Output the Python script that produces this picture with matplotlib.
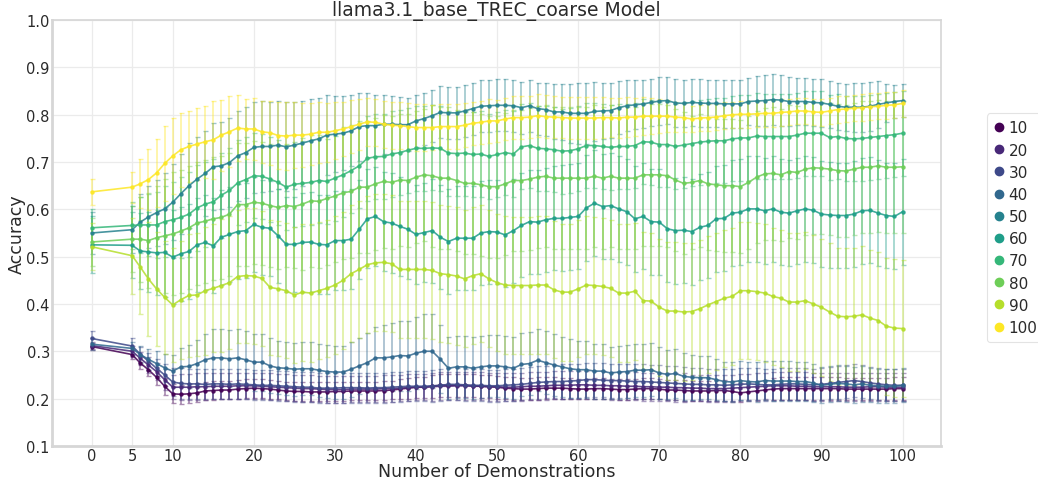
import matplotlib
matplotlib.use("Agg")
import matplotlib.pyplot as plt
from matplotlib.lines import Line2D

plt.rcParams['font.family'] = ['DejaVu Sans']

x_vals = [0] + list(range(5, 101))
labels = ["10", "20", "30", "40", "50", "60", "70", "80", "90", "100"]
colors = ["#440154", "#482878", "#3e4989", "#31688e", "#26828e",
          "#1f9e89", "#35b779", "#6ece58", "#b5de2b", "#fde725"]

acc_10 = [0.310, 0.293, 0.275, 0.261, 0.245, 0.226, 0.210,
          0.209, 0.210, 0.212, 0.216, 0.217, 0.218, 0.218, 0.220, 0.221, 0.222, 0.221, 0.220, 0.218, 0.216, 0.215,
          0.215, 0.214, 0.214, 0.214, 0.215, 0.215, 0.216, 0.216, 0.216, 0.216, 0.217, 0.218, 0.220, 0.222, 0.224, 0.224,
          0.226, 0.228, 0.228, 0.228, 0.228, 0.227, 0.226, 0.225, 0.224, 0.222, 0.221, 0.220, 0.220, 0.221, 0.222, 0.222,
          0.222, 0.221, 0.220, 0.220, 0.221, 0.221, 0.220, 0.219, 0.219, 0.220, 0.221, 0.221, 0.220, 0.218, 0.218, 0.217,
          0.216, 0.216, 0.216, 0.217, 0.217, 0.215, 0.212, 0.214, 0.216, 0.218, 0.220, 0.221, 0.221, 0.221, 0.221, 0.221,
          0.221, 0.221, 0.221, 0.220, 0.220, 0.220, 0.220, 0.220, 0.220, 0.221, 0.221]
acc_20 = [0.312, 0.300, 0.285, 0.271, 0.257, 0.240, 0.224,
          0.224, 0.224, 0.225, 0.225, 0.226, 0.226, 0.226, 0.227, 0.227, 0.227, 0.226, 0.225, 0.224, 0.223, 0.222,
          0.221, 0.221, 0.220, 0.219, 0.219, 0.219, 0.220, 0.220, 0.220, 0.220, 0.221, 0.221, 0.222, 0.223, 0.224, 0.224,
          0.225, 0.226, 0.226, 0.227, 0.227, 0.226, 0.226, 0.225, 0.225, 0.224, 0.224, 0.225, 0.226, 0.226, 0.227, 0.228,
          0.228, 0.228, 0.229, 0.229, 0.228, 0.228, 0.227, 0.227, 0.226, 0.226, 0.225, 0.225, 0.224, 0.224, 0.223, 0.223,
          0.222, 0.222, 0.221, 0.221, 0.221, 0.222, 0.223, 0.224, 0.225, 0.226, 0.227, 0.227, 0.227, 0.226, 0.226, 0.225,
          0.225, 0.225, 0.225, 0.224, 0.224, 0.224, 0.225, 0.225, 0.224, 0.224, 0.224]
acc_30 = [0.327, 0.311, 0.294, 0.279, 0.264, 0.250, 0.235,
          0.232, 0.231, 0.231, 0.230, 0.231, 0.231, 0.230, 0.231, 0.230, 0.229, 0.228, 0.228, 0.227, 0.226, 0.225,
          0.224, 0.224, 0.222, 0.222, 0.222, 0.223, 0.223, 0.223, 0.222, 0.223, 0.223, 0.224, 0.225, 0.226, 0.226, 0.226,
          0.227, 0.228, 0.230, 0.230, 0.229, 0.228, 0.228, 0.227, 0.227, 0.228, 0.229, 0.230, 0.232, 0.234, 0.235, 0.236,
          0.236, 0.237, 0.238, 0.240, 0.240, 0.239, 0.238, 0.238, 0.237, 0.236, 0.236, 0.235, 0.234, 0.233, 0.232, 0.231,
          0.230, 0.230, 0.229, 0.229, 0.228, 0.229, 0.230, 0.231, 0.230, 0.229, 0.229, 0.230, 0.231, 0.231, 0.230, 0.229,
          0.230, 0.232, 0.234, 0.236, 0.238, 0.236, 0.233, 0.231, 0.229, 0.228, 0.228]
acc_40 = [0.315, 0.306, 0.293, 0.283, 0.274, 0.265, 0.258,
          0.267, 0.268, 0.274, 0.282, 0.286, 0.286, 0.284, 0.286, 0.282, 0.277, 0.277, 0.269, 0.265, 0.264, 0.262,
          0.263, 0.263, 0.260, 0.257, 0.256, 0.256, 0.262, 0.269, 0.276, 0.286, 0.286, 0.288, 0.291, 0.290, 0.296, 0.300,
          0.300, 0.283, 0.264, 0.267, 0.267, 0.264, 0.267, 0.269, 0.269, 0.267, 0.264, 0.272, 0.274, 0.281, 0.276, 0.271,
          0.267, 0.263, 0.261, 0.261, 0.258, 0.258, 0.254, 0.256, 0.257, 0.260, 0.260, 0.261, 0.254, 0.251, 0.253, 0.247,
          0.245, 0.244, 0.244, 0.240, 0.236, 0.235, 0.238, 0.236, 0.235, 0.238, 0.237, 0.237, 0.237, 0.236, 0.236, 0.233,
          0.228, 0.230, 0.232, 0.231, 0.229, 0.231, 0.228, 0.227, 0.226, 0.226, 0.228]
acc_50 = [0.550, 0.557, 0.573, 0.584, 0.593, 0.601, 0.615,
          0.633, 0.650, 0.664, 0.676, 0.690, 0.692, 0.699, 0.713, 0.720, 0.731, 0.733, 0.733, 0.736, 0.732, 0.736,
          0.740, 0.745, 0.749, 0.757, 0.759, 0.761, 0.766, 0.775, 0.777, 0.777, 0.780, 0.780, 0.779, 0.779, 0.787, 0.792,
          0.798, 0.805, 0.804, 0.804, 0.808, 0.813, 0.818, 0.819, 0.820, 0.820, 0.819, 0.815, 0.819, 0.813, 0.811, 0.806,
          0.806, 0.803, 0.803, 0.803, 0.807, 0.808, 0.809, 0.815, 0.819, 0.821, 0.823, 0.826, 0.829, 0.830, 0.825, 0.824,
          0.826, 0.825, 0.824, 0.824, 0.823, 0.823, 0.823, 0.828, 0.829, 0.830, 0.832, 0.831, 0.828, 0.828, 0.828, 0.826,
          0.825, 0.822, 0.818, 0.816, 0.816, 0.816, 0.818, 0.822, 0.825, 0.828, 0.830]
acc_60 = [0.525, 0.524, 0.512, 0.510, 0.508, 0.509, 0.499,
          0.506, 0.511, 0.525, 0.530, 0.523, 0.541, 0.547, 0.553, 0.555, 0.568, 0.562, 0.560, 0.544, 0.526, 0.526,
          0.530, 0.531, 0.526, 0.525, 0.534, 0.534, 0.537, 0.558, 0.580, 0.585, 0.574, 0.571, 0.564, 0.558, 0.547, 0.551,
          0.555, 0.541, 0.532, 0.539, 0.539, 0.539, 0.550, 0.553, 0.552, 0.546, 0.555, 0.566, 0.574, 0.573, 0.578, 0.581,
          0.581, 0.583, 0.585, 0.603, 0.613, 0.606, 0.608, 0.601, 0.595, 0.580, 0.585, 0.574, 0.573, 0.559, 0.555, 0.556,
          0.553, 0.562, 0.566, 0.580, 0.581, 0.592, 0.594, 0.601, 0.601, 0.597, 0.601, 0.594, 0.592, 0.597, 0.601, 0.598,
          0.590, 0.588, 0.587, 0.587, 0.590, 0.597, 0.598, 0.592, 0.587, 0.585, 0.595]
acc_70 = [0.561, 0.566, 0.567, 0.567, 0.567, 0.574, 0.578,
          0.583, 0.590, 0.603, 0.611, 0.616, 0.630, 0.640, 0.656, 0.663, 0.671, 0.670, 0.664, 0.657, 0.647, 0.653,
          0.655, 0.657, 0.661, 0.659, 0.666, 0.673, 0.682, 0.692, 0.708, 0.711, 0.712, 0.717, 0.720, 0.725, 0.729, 0.729,
          0.730, 0.729, 0.719, 0.718, 0.719, 0.716, 0.717, 0.712, 0.716, 0.720, 0.717, 0.732, 0.735, 0.729, 0.728, 0.726,
          0.723, 0.724, 0.728, 0.735, 0.735, 0.733, 0.731, 0.733, 0.733, 0.735, 0.743, 0.742, 0.737, 0.737, 0.733, 0.736,
          0.739, 0.742, 0.744, 0.745, 0.745, 0.749, 0.751, 0.751, 0.755, 0.754, 0.754, 0.754, 0.754, 0.757, 0.761, 0.761,
          0.761, 0.752, 0.754, 0.750, 0.749, 0.750, 0.752, 0.754, 0.756, 0.758, 0.761]
acc_80 = [0.531, 0.537, 0.537, 0.534, 0.540, 0.544, 0.548,
          0.554, 0.561, 0.571, 0.575, 0.580, 0.583, 0.590, 0.610, 0.610, 0.615, 0.613, 0.608, 0.604, 0.608, 0.606,
          0.611, 0.618, 0.617, 0.623, 0.628, 0.635, 0.638, 0.647, 0.647, 0.654, 0.659, 0.657, 0.662, 0.661, 0.668, 0.673,
          0.671, 0.666, 0.666, 0.661, 0.655, 0.655, 0.652, 0.648, 0.648, 0.654, 0.661, 0.661, 0.664, 0.668, 0.670, 0.666,
          0.666, 0.666, 0.666, 0.666, 0.670, 0.666, 0.670, 0.666, 0.666, 0.666, 0.673, 0.673, 0.673, 0.671, 0.662, 0.655,
          0.657, 0.661, 0.654, 0.652, 0.650, 0.650, 0.648, 0.657, 0.668, 0.675, 0.676, 0.673, 0.680, 0.678, 0.685, 0.688,
          0.687, 0.685, 0.682, 0.681, 0.685, 0.689, 0.689, 0.692, 0.689, 0.689, 0.690]
acc_90 = [0.521, 0.502, 0.478, 0.453, 0.432, 0.414, 0.398,
          0.409, 0.418, 0.419, 0.428, 0.433, 0.439, 0.445, 0.458, 0.460, 0.459, 0.454, 0.435, 0.432, 0.428, 0.419,
          0.425, 0.423, 0.428, 0.433, 0.440, 0.450, 0.464, 0.473, 0.483, 0.487, 0.488, 0.485, 0.473, 0.473, 0.473, 0.473,
          0.471, 0.464, 0.462, 0.459, 0.453, 0.460, 0.464, 0.453, 0.445, 0.440, 0.439, 0.439, 0.439, 0.440, 0.440, 0.430,
          0.425, 0.425, 0.432, 0.440, 0.439, 0.437, 0.433, 0.423, 0.423, 0.427, 0.407, 0.406, 0.393, 0.385, 0.385, 0.383,
          0.384, 0.390, 0.398, 0.405, 0.412, 0.416, 0.428, 0.428, 0.426, 0.423, 0.416, 0.412, 0.404, 0.404, 0.407, 0.400,
          0.393, 0.383, 0.374, 0.373, 0.374, 0.377, 0.370, 0.365, 0.353, 0.349, 0.348]
acc_100 = [0.637, 0.647, 0.654, 0.663, 0.677, 0.697, 0.713,
           0.726, 0.733, 0.738, 0.743, 0.747, 0.757, 0.764, 0.772, 0.770, 0.770, 0.764, 0.762, 0.756, 0.755, 0.757,
           0.757, 0.759, 0.763, 0.763, 0.766, 0.770, 0.775, 0.780, 0.785, 0.784, 0.780, 0.778, 0.777, 0.775, 0.773, 0.773,
           0.773, 0.775, 0.775, 0.775, 0.778, 0.782, 0.784, 0.787, 0.787, 0.791, 0.794, 0.794, 0.795, 0.798, 0.796, 0.795,
           0.794, 0.793, 0.793, 0.793, 0.793, 0.794, 0.794, 0.793, 0.795, 0.795, 0.797, 0.797, 0.797, 0.797, 0.795, 0.794,
           0.791, 0.793, 0.794, 0.795, 0.798, 0.800, 0.801, 0.801, 0.802, 0.803, 0.803, 0.805, 0.806, 0.808, 0.808, 0.806,
           0.805, 0.808, 0.811, 0.812, 0.814, 0.815, 0.817, 0.818, 0.820, 0.821, 0.824]

err_10 = [0.008, 0.010, 0.012, 0.014, 0.016, 0.018, 0.020,
          0.020, 0.020, 0.020, 0.020, 0.020, 0.020, 0.020, 0.020, 0.020, 0.020, 0.020, 0.020, 0.020, 0.020, 0.020,
          0.020, 0.020, 0.020, 0.020, 0.020, 0.020, 0.020, 0.020, 0.020, 0.020, 0.020, 0.020, 0.022, 0.022, 0.022, 0.022,
          0.024, 0.024, 0.024, 0.024, 0.024, 0.024, 0.024, 0.024, 0.024, 0.024, 0.024, 0.024, 0.024, 0.024, 0.024, 0.024,
          0.022, 0.022, 0.022, 0.022, 0.022, 0.022, 0.022, 0.022, 0.022, 0.022, 0.022, 0.022, 0.022, 0.022, 0.022, 0.022,
          0.022, 0.022, 0.022, 0.022, 0.022, 0.022, 0.020, 0.020, 0.022, 0.022, 0.024, 0.024, 0.024, 0.024, 0.024, 0.024,
          0.024, 0.024, 0.024, 0.024, 0.024, 0.024, 0.024, 0.024, 0.024, 0.024, 0.024]
err_20 = [0.008, 0.012, 0.014, 0.016, 0.018, 0.022, 0.026,
          0.028, 0.028, 0.028, 0.028, 0.028, 0.028, 0.028, 0.028, 0.028, 0.028, 0.028, 0.028, 0.028, 0.028, 0.028,
          0.028, 0.028, 0.028, 0.028, 0.028, 0.028, 0.028, 0.028, 0.028, 0.028, 0.028, 0.028, 0.028, 0.028, 0.028, 0.028,
          0.030, 0.030, 0.030, 0.030, 0.030, 0.030, 0.030, 0.030, 0.030, 0.030, 0.030, 0.030, 0.030, 0.030, 0.030, 0.030,
          0.030, 0.030, 0.030, 0.030, 0.030, 0.030, 0.030, 0.030, 0.030, 0.030, 0.030, 0.030, 0.030, 0.030, 0.030, 0.030,
          0.028, 0.028, 0.028, 0.028, 0.028, 0.028, 0.028, 0.028, 0.028, 0.028, 0.030, 0.030, 0.030, 0.030, 0.030, 0.030,
          0.030, 0.030, 0.030, 0.030, 0.030, 0.030, 0.030, 0.030, 0.030, 0.030, 0.030]
err_30 = [0.016, 0.016, 0.016, 0.018, 0.020, 0.024, 0.030,
          0.032, 0.032, 0.032, 0.032, 0.032, 0.032, 0.032, 0.032, 0.032, 0.032, 0.032, 0.032, 0.032, 0.032, 0.032,
          0.032, 0.032, 0.032, 0.032, 0.032, 0.032, 0.032, 0.032, 0.032, 0.032, 0.032, 0.032, 0.032, 0.032, 0.032, 0.032,
          0.034, 0.034, 0.034, 0.034, 0.034, 0.034, 0.034, 0.034, 0.034, 0.034, 0.034, 0.034, 0.034, 0.034, 0.034, 0.034,
          0.036, 0.036, 0.036, 0.036, 0.036, 0.036, 0.036, 0.036, 0.036, 0.036, 0.036, 0.036, 0.036, 0.036, 0.036, 0.036,
          0.034, 0.034, 0.034, 0.034, 0.034, 0.034, 0.034, 0.034, 0.034, 0.034, 0.034, 0.034, 0.034, 0.034, 0.034, 0.034,
          0.034, 0.034, 0.034, 0.034, 0.034, 0.034, 0.034, 0.034, 0.034, 0.034, 0.034]
err_40 = [0.012, 0.014, 0.018, 0.022, 0.026, 0.030, 0.034,
          0.040, 0.045, 0.050, 0.055, 0.060, 0.060, 0.060, 0.060, 0.060, 0.060, 0.060, 0.058, 0.056, 0.056, 0.056,
          0.056, 0.056, 0.056, 0.056, 0.056, 0.056, 0.058, 0.060, 0.062, 0.066, 0.070, 0.072, 0.074, 0.074, 0.076, 0.078,
          0.078, 0.072, 0.066, 0.066, 0.066, 0.066, 0.066, 0.066, 0.066, 0.066, 0.066, 0.066, 0.066, 0.066, 0.066, 0.066,
          0.064, 0.062, 0.060, 0.060, 0.058, 0.058, 0.056, 0.056, 0.056, 0.056, 0.056, 0.056, 0.054, 0.052, 0.052, 0.050,
          0.048, 0.046, 0.046, 0.044, 0.042, 0.042, 0.042, 0.042, 0.042, 0.042, 0.042, 0.042, 0.042, 0.042, 0.042, 0.040,
          0.038, 0.038, 0.038, 0.038, 0.038, 0.038, 0.036, 0.036, 0.036, 0.036, 0.036]
err_50 = [0.045, 0.050, 0.060, 0.065, 0.070, 0.075, 0.080,
          0.085, 0.090, 0.090, 0.090, 0.092, 0.092, 0.094, 0.096, 0.096, 0.096, 0.096, 0.094, 0.094, 0.094, 0.092,
          0.090, 0.088, 0.086, 0.084, 0.080, 0.078, 0.075, 0.072, 0.068, 0.065, 0.062, 0.060, 0.058, 0.056, 0.055, 0.055,
          0.055, 0.055, 0.055, 0.055, 0.055, 0.055, 0.055, 0.055, 0.055, 0.055, 0.055, 0.055, 0.055, 0.055, 0.056, 0.058,
          0.060, 0.062, 0.064, 0.064, 0.062, 0.060, 0.058, 0.056, 0.054, 0.052, 0.050, 0.050, 0.050, 0.050, 0.050, 0.050,
          0.050, 0.050, 0.050, 0.050, 0.050, 0.050, 0.050, 0.050, 0.052, 0.054, 0.054, 0.054, 0.052, 0.050, 0.050, 0.050,
          0.050, 0.050, 0.050, 0.050, 0.052, 0.052, 0.052, 0.050, 0.040, 0.035, 0.035]
err_60 = [0.060, 0.070, 0.080, 0.085, 0.090, 0.095, 0.100,
          0.100, 0.100, 0.100, 0.100, 0.100, 0.100, 0.100, 0.100, 0.100, 0.100, 0.100, 0.100, 0.100, 0.100, 0.100,
          0.105, 0.105, 0.105, 0.105, 0.105, 0.105, 0.105, 0.105, 0.105, 0.105, 0.105, 0.105, 0.105, 0.105, 0.105, 0.105,
          0.110, 0.110, 0.110, 0.110, 0.110, 0.110, 0.110, 0.110, 0.110, 0.110, 0.110, 0.110, 0.110, 0.110, 0.110, 0.110,
          0.112, 0.112, 0.112, 0.112, 0.112, 0.112, 0.112, 0.112, 0.112, 0.112, 0.112, 0.112, 0.112, 0.112, 0.112, 0.112,
          0.112, 0.112, 0.112, 0.112, 0.112, 0.112, 0.112, 0.112, 0.112, 0.112, 0.112, 0.112, 0.112, 0.112, 0.112, 0.112,
          0.112, 0.112, 0.112, 0.112, 0.112, 0.112, 0.112, 0.112, 0.112, 0.112, 0.112]
err_70 = [0.040, 0.050, 0.060, 0.065, 0.070, 0.075, 0.080,
          0.085, 0.090, 0.090, 0.090, 0.090, 0.090, 0.090, 0.090, 0.090, 0.090, 0.090, 0.090, 0.090, 0.090, 0.090,
          0.090, 0.090, 0.090, 0.090, 0.090, 0.090, 0.090, 0.090, 0.090, 0.090, 0.090, 0.090, 0.090, 0.090, 0.090, 0.090,
          0.090, 0.090, 0.090, 0.090, 0.090, 0.090, 0.090, 0.090, 0.090, 0.090, 0.090, 0.090, 0.090, 0.090, 0.090, 0.090,
          0.090, 0.090, 0.090, 0.090, 0.090, 0.090, 0.090, 0.090, 0.090, 0.090, 0.090, 0.090, 0.090, 0.090, 0.090, 0.090,
          0.090, 0.090, 0.090, 0.090, 0.090, 0.090, 0.090, 0.090, 0.090, 0.090, 0.090, 0.090, 0.090, 0.090, 0.090, 0.090,
          0.090, 0.090, 0.090, 0.090, 0.090, 0.090, 0.090, 0.090, 0.090, 0.090, 0.090]
err_80 = [0.050, 0.070, 0.090, 0.100, 0.110, 0.120, 0.130,
          0.130, 0.130, 0.130, 0.130, 0.130, 0.130, 0.130, 0.130, 0.130, 0.130, 0.130, 0.130, 0.130, 0.130, 0.130,
          0.140, 0.140, 0.140, 0.140, 0.140, 0.140, 0.140, 0.140, 0.140, 0.140, 0.140, 0.140, 0.140, 0.140, 0.140, 0.140,
          0.150, 0.150, 0.150, 0.150, 0.150, 0.150, 0.150, 0.150, 0.150, 0.150, 0.150, 0.150, 0.150, 0.150, 0.150, 0.150,
          0.150, 0.150, 0.150, 0.150, 0.150, 0.150, 0.150, 0.150, 0.150, 0.150, 0.150, 0.150, 0.150, 0.150, 0.150, 0.150,
          0.140, 0.140, 0.140, 0.140, 0.140, 0.140, 0.140, 0.140, 0.140, 0.140, 0.140, 0.140, 0.140, 0.140, 0.140, 0.140,
          0.140, 0.140, 0.140, 0.140, 0.140, 0.140, 0.140, 0.140, 0.140, 0.140, 0.140]
err_90 = [0.050, 0.080, 0.100, 0.120, 0.120, 0.120, 0.120,
          0.125, 0.130, 0.130, 0.135, 0.135, 0.140, 0.140, 0.140, 0.143, 0.143, 0.143, 0.143, 0.143, 0.143, 0.143,
          0.145, 0.145, 0.145, 0.145, 0.145, 0.145, 0.145, 0.145, 0.145, 0.145, 0.145, 0.145, 0.145, 0.145, 0.145, 0.145,
          0.145, 0.145, 0.145, 0.145, 0.145, 0.145, 0.145, 0.145, 0.145, 0.145, 0.145, 0.145, 0.145, 0.145, 0.145, 0.145,
          0.145, 0.145, 0.145, 0.145, 0.145, 0.145, 0.145, 0.145, 0.145, 0.145, 0.145, 0.145, 0.145, 0.145, 0.145, 0.145,
          0.145, 0.145, 0.145, 0.145, 0.145, 0.145, 0.145, 0.145, 0.145, 0.145, 0.145, 0.145, 0.145, 0.145, 0.145, 0.145,
          0.145, 0.145, 0.145, 0.145, 0.145, 0.145, 0.145, 0.145, 0.145, 0.145, 0.145]
err_100 = [0.027, 0.033, 0.052, 0.064, 0.072, 0.080, 0.081,
           0.078, 0.075, 0.076, 0.076, 0.083, 0.075, 0.075, 0.070, 0.063, 0.065, 0.066, 0.068, 0.070, 0.072, 0.070,
           0.068, 0.066, 0.064, 0.062, 0.060, 0.058, 0.056, 0.054, 0.050, 0.050, 0.050, 0.050, 0.050, 0.050, 0.050, 0.050,
           0.048, 0.048, 0.048, 0.048, 0.046, 0.046, 0.046, 0.046, 0.045, 0.045, 0.045, 0.045, 0.045, 0.045, 0.045, 0.045,
           0.044, 0.044, 0.044, 0.044, 0.044, 0.044, 0.042, 0.042, 0.042, 0.040, 0.040, 0.038, 0.036, 0.034, 0.032, 0.030,
           0.028, 0.028, 0.028, 0.028, 0.028, 0.028, 0.028, 0.028, 0.028, 0.028, 0.028, 0.028, 0.028, 0.028, 0.028, 0.028,
           0.028, 0.028, 0.028, 0.028, 0.028, 0.028, 0.028, 0.028, 0.028, 0.028, 0.028]

means = [acc_10, acc_20, acc_30, acc_40, acc_50, acc_60, acc_70, acc_80, acc_90, acc_100]
errs = [err_10, err_20, err_30, err_40, err_50, err_60, err_70, err_80, err_90, err_100]

x_ticks = [0, 5, 10, 20, 30, 40, 50, 60, 70, 80, 90, 100]
y_ticks = [0.1, 0.2, 0.3, 0.4, 0.5, 0.6, 0.7, 0.8, 0.9, 1.0]

fig = plt.figure(figsize=(10.38, 4.81), dpi=100)
ax = fig.add_axes([0.050, 0.071, 0.857, 0.885])

for lab, col, m, e in zip(labels, colors, means, errs):
    ax.errorbar(x_vals, m, yerr=e, fmt='none', ecolor=col, elinewidth=1.2,
                capsize=1.8, capthick=1.0, alpha=0.45, zorder=2)
    ax.plot(x_vals, m, color=col, lw=1.2, alpha=0.85, marker='o', ms=2.2,
            zorder=3)

ax.set_xlim(-4.9, 104.8)
ax.set_ylim(0.1, 1.0)
ax.set_xticks(x_ticks)
ax.set_yticks(y_ticks)
ax.set_yticklabels([f"{v:.1f}" for v in y_ticks])
ax.tick_params(axis='both', labelsize=10.5, length=0, colors='#2a2a2a')
ax.tick_params(axis='x', pad=1.5)
ax.tick_params(axis='y', pad=1.5)
ax.grid(True, color='#ebebeb', lw=0.9)
ax.set_axisbelow(True)
for s in ax.spines.values():
    s.set_color('#d6d6d6')
    s.set_linewidth(1.2)
ax.spines['left'].set_linewidth(2.0)
ax.spines['bottom'].set_linewidth(2.0)

ax.set_title("llama3.1_base_TREC_coarse Model", fontsize=13.5, color='#2a2a2a', pad=2)
ax.set_xlabel("Number of Demonstrations", fontsize=12.5, color='#2a2a2a', labelpad=-1)
ax.set_ylabel("Accuracy", fontsize=12.5, color='#2a2a2a', labelpad=0)

handles = [Line2D([0], [0], marker='o', color='w', markerfacecolor=c,
                  markeredgecolor=c, markersize=6, lw=0) for c in colors]
leg = fig.legend(handles, labels, loc='upper left', bbox_to_anchor=(0.951, 0.762),
                 fontsize=11, frameon=True, handletextpad=0.25, handlelength=0.7,
                 labelspacing=0.47, borderpad=0.45, borderaxespad=0.0)
leg.get_frame().set_edgecolor('#dddddd')
leg.get_frame().set_linewidth(0.8)
for t in leg.get_texts():
    t.set_color('#2a2a2a')

fig.savefig("out.png", dpi=100)
